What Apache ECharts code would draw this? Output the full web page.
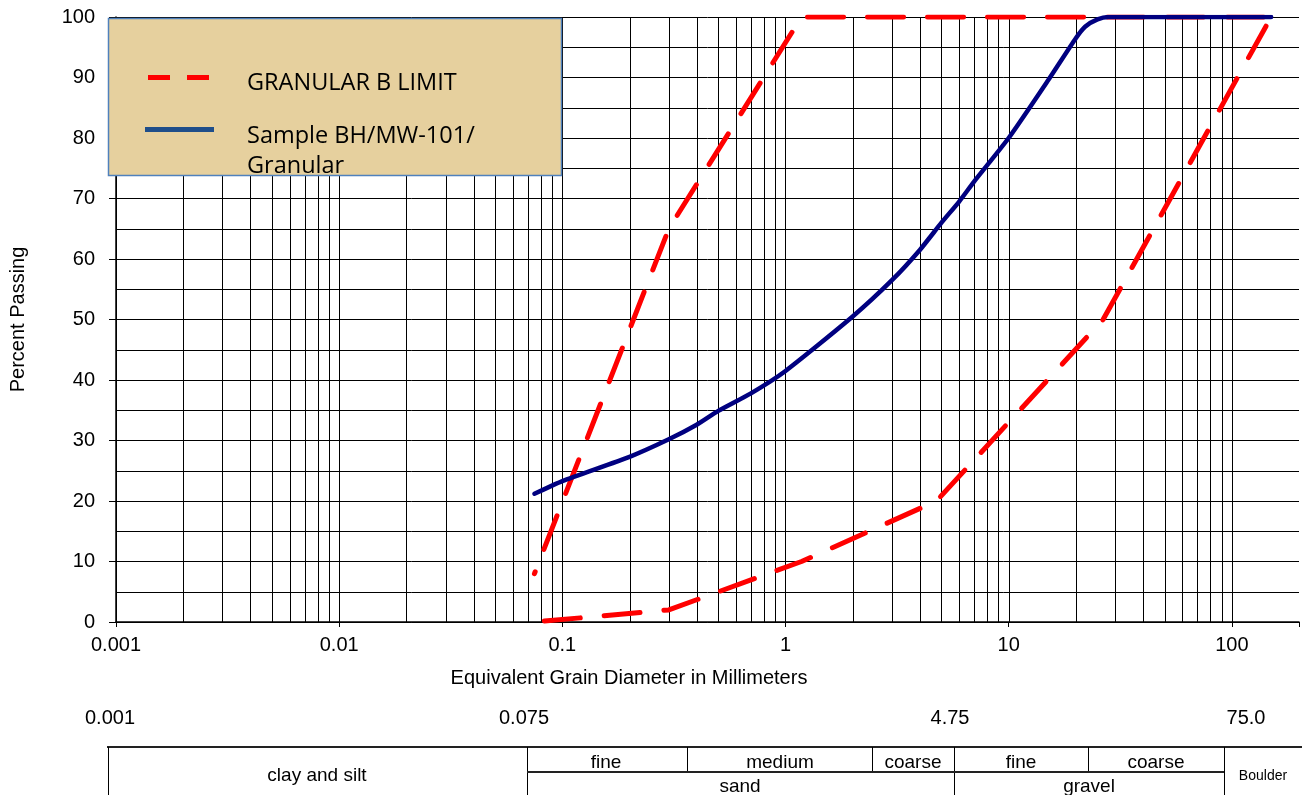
<!DOCTYPE html>
<html>
<head>
<meta charset="utf-8">
<script src="https://cdn.jsdelivr.net/npm/echarts@6/dist/echarts.min.js"></script>
<style>
html,body{margin:0;padding:0;background:#fff;}
#chart{width:1302px;height:795px;}
</style>
</head>
<body>
<div id="chart"></div>
<script>
// ---- data ----
const sampleSize    = [0.075, 0.1, 0.2, 0.3, 0.4, 0.5, 0.7, 1, 2, 3, 4, 5, 6, 7, 10, 15, 20, 22, 25, 28, 40, 150];
const samplePassing = [21.2, 23.3, 27.3, 30.2, 32.6, 34.9, 37.8, 41.5, 50.5, 56.5, 61.5, 66, 69.5, 72.8, 80, 89.5, 96.5, 98.4, 99.6, 100, 100, 100];
const limitSize     = [0.075, 0.3, 1.18, 4.75, 26.5, 150];
const fineLimit     = [8, 65, 100, 100, 100, 100];
const coarseLimit   = [0, 2, 10, 20, 50, 100];
const boundaryLabels = ['0.001', '0.075', '4.75', '75.0'];
const tableTopRow    = ['fine', 'medium', 'coarse', 'fine', 'coarse'];
const tableBottomRow = ['sand', 'gravel'];
const seriesNames = ['GRANULAR B LIMIT', 'Sample BH/MW-101/', 'Granular'];

// minor log grid values (2..9 x 10^k and decades)
const gridVals = [];
for (let k = -3; k <= 2; k++) {
  for (let m = 1; m <= 9; m++) {
    const v = Number((m * Math.pow(10, k)).toPrecision(6));
    if (v <= 100) gridVals.push(v);
  }
}

const zip = (a, b) => a.map((v, i) => [v, b[i]]);
const chart = echarts.init(document.getElementById('chart'), null, {renderer: 'canvas'});
const F = '"Liberation Sans", Arial, sans-serif';
const LF = '"Open Sans", "Noto Sans", sans-serif';

// table geometry (layout only)
const tTop = 747, tMid = 772, tBot = 797;
const g = [];
function line(x1, y1, x2, y2, w, c) {
  g.push({type: 'line', shape: {x1, y1, x2, y2}, style: {stroke: c || '#000', lineWidth: w || 1}, z: 100, silent: true});
}
function text(x, y, t, size, font, align) {
  g.push({type: 'text', x, y, style: {text: t, fill: '#000', font: size + 'px ' + (font || F), textAlign: align || 'center', textVerticalAlign: 'middle'}, z: 101, silent: true});
}
line(107, tTop, 1302, tTop, 2, '#222');
line(108.5, tTop, 108.5, tBot, 1);
[527, 954, 1224].forEach(x => line(x + 0.5, tTop, x + 0.5, tBot, 1));
[687, 872, 1088].forEach(x => line(x + 0.5, tTop, x + 0.5, tMid, 1));
line(527, tMid, 1224, tMid, 2, '#222');
text(317, 776, 'clay and silt', 19);
const topCenters = [606, 780, 913, 1021, 1156];
tableTopRow.forEach((t, i) => text(topCenters[i], 763, t, 19));
text(740, 787, tableBottomRow[0], 19);
text(1089, 787, tableBottomRow[1], 19);
text(1263, 776, 'Boulder', 14);
const blX = [110, 524, 950, 1246];
boundaryLabels.forEach((t, i) => text(blX[i], 718, t, 20));
text(629, 678, 'Equivalent Grain Diameter in Millimeters', 20);

// legend box
g.push({type: 'rect', shape: {x: 108.5, y: 18.5, width: 453, height: 157}, style: {fill: '#E6D09E', stroke: '#4F81BD', lineWidth: 1.5}, z: 100, silent: true});
g.push({type: 'rect', shape: {x: 148, y: 75, width: 22, height: 5}, style: {fill: '#FF0000'}, z: 101});
g.push({type: 'rect', shape: {x: 187, y: 75, width: 22, height: 5}, style: {fill: '#FF0000'}, z: 101});
g.push({type: 'rect', shape: {x: 145, y: 127, width: 69, height: 5}, style: {fill: '#1F4E8A'}, z: 101});
text(247, 83, seriesNames[0], 23.5, LF, 'left');
text(247, 136, seriesNames[1], 23.5, LF, 'left');
text(247, 166, seriesNames[2], 23.5, LF, 'left');

const option = {
  animation: false,
  backgroundColor: '#fff',
  grid: {left: 114, top: 17, right: 0, bottom: 173, containLabel: false},
  xAxis: {
    type: 'log', logBase: 10, min: 0.001, max: 200,
    axisLine: {show: true, lineStyle: {color: '#000', width: 1.5}},
    axisTick: {show: true, length: 5, lineStyle: {color: '#000'}},
    splitLine: {show: false},
    axisLabel: {
      color: '#000', fontFamily: F, fontSize: 20, margin: 13,
      formatter: v => {
        const e = Math.log10(v);
        if (Math.abs(e - Math.round(e)) > 1e-6) return '';
        return String(Number(v.toPrecision(6)));
      }
    }
  },
  yAxis: {
    type: 'value', min: 0, max: 100, interval: 10,
    name: 'Percent Passing', nameLocation: 'middle', nameGap: 88, nameRotate: 90,
    nameTextStyle: {color: '#000', fontFamily: F, fontSize: 20},
    axisLine: {show: true, lineStyle: {color: '#000', width: 1.5}},
    axisTick: {show: true, length: 7, lineStyle: {color: '#000'}},
    axisLabel: {color: '#000', fontFamily: F, fontSize: 20, margin: 21},
    splitLine: {show: true, lineStyle: {color: '#000', width: 1}},
    minorTick: {show: false, splitNumber: 2},
    minorSplitLine: {show: true, lineStyle: {color: '#000', width: 1}}
  },
  graphic: g,
  series: [
    {
      type: 'custom', name: 'grid', silent: true, z: 1,
      data: gridVals.map(v => [v]),
      encode: {x: 0},
      renderItem: (params, api) => {
        const v = api.value(0);
        const p1 = api.coord([v, 0]);
        const p2 = api.coord([v, 100]);
        const x = Math.round(p1[0]) + 0.5;
        return {type: 'line', shape: {x1: x, y1: p1[1], x2: x, y2: p2[1]}, style: {stroke: '#000', lineWidth: 1}};
      }
    },
    {
      type: 'line', name: 'coarse', z: 3, symbol: 'none', silent: true,
      data: zip(limitSize, coarseLimit),
      lineStyle: {color: '#FF0000', width: 5, type: [36, 24], cap: 'round', dashOffset: 50}
    },
    {
      type: 'line', name: 'fine', z: 3, symbol: 'none', silent: true,
      data: zip(limitSize, fineLimit),
      lineStyle: {color: '#FF0000', width: 5, type: [36, 24], cap: 'round', dashOffset: 34}
    },
    {
      type: 'line', name: 'sample', z: 4, symbol: 'none', silent: true,
      smooth: 0.2,
      data: zip(sampleSize, samplePassing),
      lineStyle: {color: '#000080', width: 4.5, cap: 'round', join: 'round'}
    }
  ]
};
chart.setOption(option);
</script>
</body>
</html>
